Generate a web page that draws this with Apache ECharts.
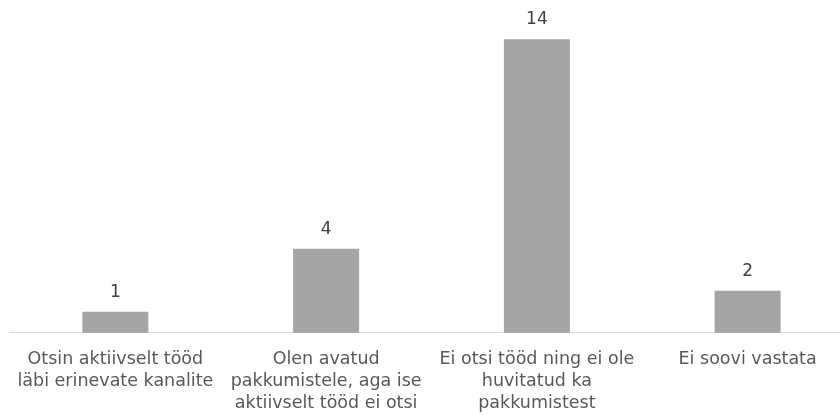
<!DOCTYPE html>
<html>
<head>
<meta charset="utf-8">
<script src="https://cdn.jsdelivr.net/npm/echarts@6/dist/echarts.min.js"></script>
<style>
  html, body { margin: 0; padding: 0; background: #ffffff; }
  #chart { width: 840px; height: 415px; }
</style>
</head>
<body>
<div id="chart"></div>
<script>
// Survey answers about job seeking and their counts
const categories = [
  'Otsin aktiivselt tööd\nläbi erinevate kanalite',
  'Olen avatud\npakkumistele, aga ise\naktiivselt tööd ei otsi',
  'Ei otsi tööd ning ei ole\nhuvitatud ka\npakkumistest',
  'Ei soovi vastata'
];
const counts = [1, 4, 14, 2];

const FONT = '"DejaVu Sans", sans-serif';

const chart = echarts.init(document.getElementById('chart'), null, { renderer: 'canvas' });
chart.setOption({
  animation: false,
  backgroundColor: '#ffffff',
  // plot area runs a little past the right edge of the canvas
  grid: {
    left: 10, width: 843, top: 39.3, bottom: 82.3,
    containLabel: false,
    outerBoundsMode: 'none'
  },
  xAxis: {
    type: 'category',
    data: categories,
    axisLine: { show: true, lineStyle: { color: '#d9d9d9', width: 1 } },
    axisTick: { show: false },
    axisLabel: {
      interval: 0,
      color: '#595959',
      fontFamily: FONT,
      fontSize: 17.5,
      lineHeight: 22,
      margin: 16
    }
  },
  yAxis: {
    type: 'value',
    min: 0,
    max: 14,
    show: false,
    splitLine: { show: false }
  },
  series: [{
    type: 'bar',
    data: counts,
    barWidth: 66,
    itemStyle: { color: '#a5a5a5' },
    label: {
      show: true,
      position: 'top',
      distance: 11,
      color: '#404040',
      fontFamily: FONT,
      fontSize: 17
    }
  }]
});
</script>
</body>
</html>
